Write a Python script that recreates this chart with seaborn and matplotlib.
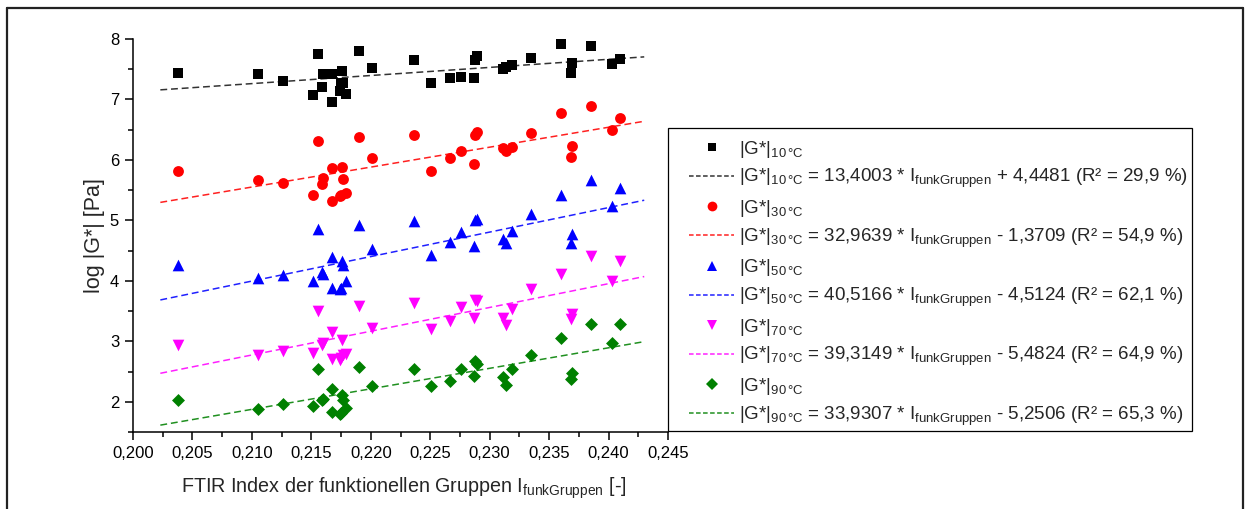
import numpy as np
import pandas as pd
import matplotlib
matplotlib.use("Agg")
import matplotlib.pyplot as plt
import seaborn as sns
from matplotlib.lines import Line2D
from matplotlib.patches import Rectangle
from matplotlib.ticker import MultipleLocator, FuncFormatter

# ---------------- data ----------------
x_index = [0.2038, 0.2105, 0.2126, 0.2151, 0.2156, 0.2159, 0.2160, 0.2167, 0.2167,
           0.2174, 0.2175, 0.2176, 0.2177, 0.2179, 0.2190, 0.2201, 0.2236, 0.2251,
           0.2267, 0.2276, 0.2287, 0.2288, 0.2289, 0.2311, 0.2314, 0.2319, 0.2335,
           0.2360, 0.2368, 0.2369, 0.2385, 0.2403, 0.2410]
g10 = [7.43, 7.42, 7.31, 7.07, 7.75, 7.21, 7.42, 7.42, 6.95, 7.14, 7.27, 7.47, 7.27,
       7.09, 7.80, 7.52, 7.65, 7.28, 7.36, 7.37, 7.36, 7.65, 7.72, 7.50, 7.54, 7.57,
       7.69, 7.91, 7.44, 7.60, 7.88, 7.59, 7.67]
g30 = [5.82, 5.66, 5.62, 5.42, 6.32, 5.61, 5.70, 5.86, 5.32, 5.40, 5.42, 5.89, 5.69,
       5.45, 6.38, 6.04, 6.41, 5.82, 6.03, 6.14, 5.94, 6.42, 6.46, 6.19, 6.15, 6.22,
       6.45, 6.78, 6.05, 6.23, 6.89, 6.50, 6.70]
g50 = [4.26, 4.04, 4.10, 3.99, 4.85, 4.15, 4.12, 4.39, 3.88, 3.86, 3.88, 4.32, 4.26,
       4.00, 4.92, 4.52, 4.99, 4.43, 4.65, 4.80, 4.58, 5.01, 5.03, 4.70, 4.62, 4.82,
       5.11, 5.42, 4.63, 4.77, 5.67, 5.24, 5.54]
g70 = [2.94, 2.77, 2.84, 2.81, 3.50, 2.94, 2.97, 3.16, 2.70, 2.69, 2.72, 3.02, 2.77,
       2.79, 3.58, 3.22, 3.63, 3.20, 3.34, 3.57, 3.38, 3.68, 3.66, 3.38, 3.27, 3.53,
       3.86, 4.11, 3.37, 3.45, 4.41, 3.99, 4.32]
g90 = [2.03, 1.88, 1.96, 1.93, 2.54, 2.03, 2.05, 2.21, 1.83, 1.80, 1.82, 2.12, 2.03,
       1.89, 2.58, 2.26, 2.54, 2.26, 2.35, 2.54, 2.43, 2.68, 2.62, 2.41, 2.28, 2.54,
       2.78, 3.06, 2.38, 2.47, 3.29, 2.97, 3.28]

temps = ["10", "30", "50", "70", "90"]
slopes = [13.4003, 32.9639, 40.5166, 39.3149, 33.9307]
intercepts = [4.4481, -1.3709, -4.5124, -5.4824, -5.2506]
slope_txt = ["13,4003", "32,9639", "40,5166", "39,3149", "33,9307"]
icpt_txt = ["+ 4,4481", "- 1,3709", "- 4,5124", "- 5,4824", "- 5,2506"]
r2_txt = ["29,9", "54,9", "62,1", "64,9", "65,3"]
fit_range = [0.2023, 0.2430]

x_ticks = [0.200, 0.205, 0.210, 0.215, 0.220, 0.225, 0.230, 0.235, 0.240, 0.245]
y_ticks = [2, 3, 4, 5, 6, 7, 8]

# ---------------- style ----------------
colors = ["#000000", "#ff0000", "#0000ff", "#ff00ff", "#008000"]
line_colors = ["#333333", "#ff2020", "#2020ff", "#ff20ff", "#209020"]
markers = ["s", "o", "^", "v", "D"]
msizes = [6.6, 7.8, 8.4, 8.4, 6.6]

sns.set_style("ticks")
plt.rcParams["font.family"] = ["Liberation Sans", "DejaVu Sans"]
plt.rcParams["mathtext.fontset"] = "custom"
plt.rcParams["mathtext.rm"] = "Liberation Sans"
plt.rcParams["mathtext.it"] = "Liberation Sans"
plt.rcParams["mathtext.bf"] = "Liberation Sans:bold"

fig = plt.figure(figsize=(12.5, 5.09), dpi=100)
W, H = 1250, 509
ax = fig.add_axes([133 / W, (H - 432) / H, (668 - 133) / W, (432 - 39) / H])

series_y = [g10, g30, g50, g70, g90]
rows = []
for t, ys in zip(temps, series_y):
    for xv, yv in zip(x_index, ys):
        rows.append({"x": xv, "y": yv, "T": t})
df = pd.DataFrame(rows)

xfit = np.linspace(fit_range[0], fit_range[1], 50)
for i, t in enumerate(temps):
    fit_df = pd.DataFrame({"x": xfit, "y": slopes[i] * xfit + intercepts[i]})
    sns.lineplot(data=fit_df, x="x", y="y", ax=ax, color=line_colors[i], lw=1.1,
                 linestyle=(0, (4.5, 2.5)), zorder=2)
for i, t in enumerate(temps):
    sub = df[df["T"] == t]
    sns.scatterplot(data=sub, x="x", y="y", ax=ax, color=colors[i], marker=markers[i],
                    s=msizes[i] ** 2, linewidth=0, edgecolor=colors[i], zorder=3,
                    legend=False)

ax.set_xlim(0.200, 0.245)
ax.set_ylim(1.5, 8.0)
ax.set_xticks(x_ticks)
ax.set_yticks(y_ticks)
ax.xaxis.set_minor_locator(MultipleLocator(0.0025))
ax.yaxis.set_minor_locator(MultipleLocator(0.5))
ax.xaxis.set_major_formatter(FuncFormatter(lambda v, p: f"{v:.3f}".replace(".", ",")))
ax.yaxis.set_major_formatter(FuncFormatter(lambda v, p: f"{v:.0f}"))
ax.tick_params(which="major", direction="out", length=6, width=1.1, labelsize=12,
               color="black", labelcolor="black", pad=4)
ax.tick_params(which="minor", direction="out", length=3.5, width=1.1, color="black")
for s in ["top", "right"]:
    ax.spines[s].set_visible(False)
for s in ["left", "bottom"]:
    ax.spines[s].set_linewidth(1.1)
    ax.spines[s].set_color("black")

ax.set_xlabel(r"FTIR Index der funktionellen Gruppen I$_{\mathrm{funkGruppen}}$ [-]",
              fontsize=14.2)
ax.set_ylabel("log |G*| [Pa]", fontsize=15.5)
ax.xaxis.set_label_coords(0.507, -0.11)
ax.yaxis.set_label_coords(-0.052, 0.5)

# ---------------- legend ----------------
handles, labels = [], []
for i, t in enumerate(temps):
    sub = r"$_{\mathrm{" + t + r"\,°C}}$"
    handles.append(Line2D([], [], color=colors[i], marker=markers[i], linestyle="none",
                          markersize=msizes[i] * 0.9, markeredgewidth=0))
    labels.append("|G*|" + sub)
    handles.append(Line2D([], [], color=line_colors[i], lw=1.1, linestyle=(0, (3, 1.6))))
    labels.append("|G*|" + sub + " = " + slope_txt[i] + r" * I$_{\mathrm{funkGruppen}}$ "
                  + icpt_txt[i] + " (R² = " + r2_txt[i] + " %)")

fig.legend(handles, labels, loc="upper left",
           bbox_to_anchor=(689 / W, (H - 138.5) / H), bbox_transform=fig.transFigure,
           frameon=False, fontsize=13.5, borderpad=0, borderaxespad=0,
           handlelength=2.4, handletextpad=0.27, labelspacing=0.405)
fig.add_artist(Rectangle((668 / W, (H - 431) / H), (1192 - 668) / W, (431 - 128) / H,
                         transform=fig.transFigure, fill=False, ec="black", lw=0.9))

# figure frame
for xs, ys in [([7 / W, 1243 / W], [(H - 7.5) / H] * 2),
               ([7 / W] * 2, [0, (H - 7.5) / H]),
               ([1243 / W] * 2, [0, (H - 7.5) / H])]:
    fig.add_artist(Line2D(xs, ys, transform=fig.transFigure, color="#222222", lw=1.6))

fig.savefig("out.png", dpi=100)
